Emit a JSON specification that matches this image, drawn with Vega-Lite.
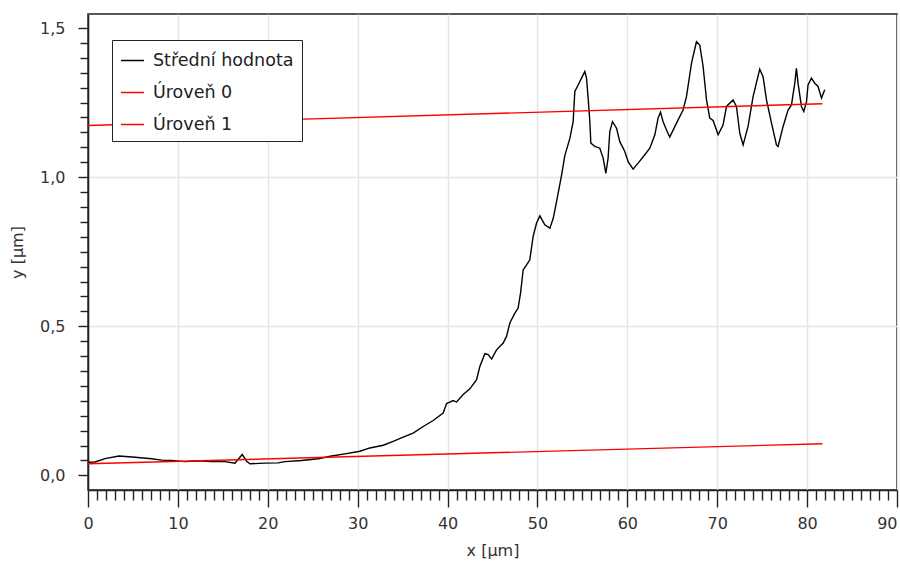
{
  "$schema": "https://vega.github.io/schema/vega-lite/v6.json",
  "width": 809,
  "height": 476,
  "autosize": {"type": "none"},
  "padding": {"left": 88, "top": 14, "right": 3, "bottom": 78},
  "background": "white",
  "config": {
    "view": {"stroke": "#222", "strokeWidth": 1.6},
    "font": "DejaVu Sans"
  },
  "data": {
    "values": [
      {"x": 0.0, "y": 0.044, "series": "Střední hodnota"},
      {"x": 0.78, "y": 0.045, "series": "Střední hodnota"},
      {"x": 1.89, "y": 0.056, "series": "Střední hodnota"},
      {"x": 3.45, "y": 0.065, "series": "Střední hodnota"},
      {"x": 5.23, "y": 0.061, "series": "Střední hodnota"},
      {"x": 7.08, "y": 0.056, "series": "Střední hodnota"},
      {"x": 8.2, "y": 0.051, "series": "Střední hodnota"},
      {"x": 9.31, "y": 0.050, "series": "Střední hodnota"},
      {"x": 10.79, "y": 0.046, "series": "Střední hodnota"},
      {"x": 12.23, "y": 0.049, "series": "Střední hodnota"},
      {"x": 13.76, "y": 0.046, "series": "Střední hodnota"},
      {"x": 15.24, "y": 0.046, "series": "Střední hodnota"},
      {"x": 16.35, "y": 0.041, "series": "Střední hodnota"},
      {"x": 17.16, "y": 0.070, "series": "Střední hodnota"},
      {"x": 17.65, "y": 0.047, "series": "Střední hodnota"},
      {"x": 18.02, "y": 0.039, "series": "Střední hodnota"},
      {"x": 19.68, "y": 0.041, "series": "Střední hodnota"},
      {"x": 21.16, "y": 0.042, "series": "Střední hodnota"},
      {"x": 21.91, "y": 0.046, "series": "Střední hodnota"},
      {"x": 23.76, "y": 0.050, "series": "Střední hodnota"},
      {"x": 25.61, "y": 0.056, "series": "Střední hodnota"},
      {"x": 27.1, "y": 0.065, "series": "Střední hodnota"},
      {"x": 28.58, "y": 0.072, "series": "Střední hodnota"},
      {"x": 30.25, "y": 0.081, "series": "Střední hodnota"},
      {"x": 31.36, "y": 0.092, "series": "Střední hodnota"},
      {"x": 32.84, "y": 0.101, "series": "Střední hodnota"},
      {"x": 33.95, "y": 0.114, "series": "Střední hodnota"},
      {"x": 35.06, "y": 0.128, "series": "Střední hodnota"},
      {"x": 36.17, "y": 0.142, "series": "Střední hodnota"},
      {"x": 37.29, "y": 0.164, "series": "Střední hodnota"},
      {"x": 38.4, "y": 0.184, "series": "Střední hodnota"},
      {"x": 39.51, "y": 0.209, "series": "Střední hodnota"},
      {"x": 39.89, "y": 0.241, "series": "Střední hodnota"},
      {"x": 40.63, "y": 0.251, "series": "Střední hodnota"},
      {"x": 41.0, "y": 0.246, "series": "Střední hodnota"},
      {"x": 41.74, "y": 0.271, "series": "Střední hodnota"},
      {"x": 42.48, "y": 0.290, "series": "Střední hodnota"},
      {"x": 43.23, "y": 0.321, "series": "Střední hodnota"},
      {"x": 43.59, "y": 0.365, "series": "Střední hodnota"},
      {"x": 44.15, "y": 0.408, "series": "Střední hodnota"},
      {"x": 44.52, "y": 0.405, "series": "Střední hodnota"},
      {"x": 44.9, "y": 0.390, "series": "Střední hodnota"},
      {"x": 45.45, "y": 0.421, "series": "Střední hodnota"},
      {"x": 46.19, "y": 0.444, "series": "Střední hodnota"},
      {"x": 46.56, "y": 0.466, "series": "Střední hodnota"},
      {"x": 46.93, "y": 0.511, "series": "Střední hodnota"},
      {"x": 47.49, "y": 0.544, "series": "Střední hodnota"},
      {"x": 47.85, "y": 0.561, "series": "Střední hodnota"},
      {"x": 48.12, "y": 0.611, "series": "Střední hodnota"},
      {"x": 48.41, "y": 0.689, "series": "Střední hodnota"},
      {"x": 48.79, "y": 0.706, "series": "Střední hodnota"},
      {"x": 49.15, "y": 0.723, "series": "Střední hodnota"},
      {"x": 49.52, "y": 0.801, "series": "Střední hodnota"},
      {"x": 49.9, "y": 0.846, "series": "Střední hodnota"},
      {"x": 50.27, "y": 0.870, "series": "Střední hodnota"},
      {"x": 50.82, "y": 0.840, "series": "Střední hodnota"},
      {"x": 51.38, "y": 0.829, "series": "Střední hodnota"},
      {"x": 51.75, "y": 0.861, "series": "Střední hodnota"},
      {"x": 52.12, "y": 0.917, "series": "Střední hodnota"},
      {"x": 52.68, "y": 1.006, "series": "Střední hodnota"},
      {"x": 53.05, "y": 1.073, "series": "Střední hodnota"},
      {"x": 53.6, "y": 1.129, "series": "Střední hodnota"},
      {"x": 53.97, "y": 1.185, "series": "Střední hodnota"},
      {"x": 54.16, "y": 1.287, "series": "Střední hodnota"},
      {"x": 54.53, "y": 1.309, "series": "Střední hodnota"},
      {"x": 54.9, "y": 1.332, "series": "Střední hodnota"},
      {"x": 55.27, "y": 1.354, "series": "Střední hodnota"},
      {"x": 55.46, "y": 1.332, "series": "Střední hodnota"},
      {"x": 55.64, "y": 1.265, "series": "Střední hodnota"},
      {"x": 55.83, "y": 1.186, "series": "Střední hodnota"},
      {"x": 55.94, "y": 1.114, "series": "Střední hodnota"},
      {"x": 56.39, "y": 1.103, "series": "Střední hodnota"},
      {"x": 56.94, "y": 1.097, "series": "Střední hodnota"},
      {"x": 57.31, "y": 1.064, "series": "Střední hodnota"},
      {"x": 57.61, "y": 1.013, "series": "Střední hodnota"},
      {"x": 57.86, "y": 1.064, "series": "Střední hodnota"},
      {"x": 58.05, "y": 1.153, "series": "Střední hodnota"},
      {"x": 58.35, "y": 1.186, "series": "Střední hodnota"},
      {"x": 58.8, "y": 1.164, "series": "Střední hodnota"},
      {"x": 59.16, "y": 1.119, "series": "Střední hodnota"},
      {"x": 59.72, "y": 1.086, "series": "Střední hodnota"},
      {"x": 60.09, "y": 1.052, "series": "Střední hodnota"},
      {"x": 60.64, "y": 1.027, "series": "Střední hodnota"},
      {"x": 61.2, "y": 1.047, "series": "Střední hodnota"},
      {"x": 61.94, "y": 1.075, "series": "Střední hodnota"},
      {"x": 62.5, "y": 1.097, "series": "Střední hodnota"},
      {"x": 63.06, "y": 1.142, "series": "Střední hodnota"},
      {"x": 63.42, "y": 1.198, "series": "Střední hodnota"},
      {"x": 63.69, "y": 1.218, "series": "Střední hodnota"},
      {"x": 63.98, "y": 1.186, "series": "Střední hodnota"},
      {"x": 64.36, "y": 1.158, "series": "Střední hodnota"},
      {"x": 64.72, "y": 1.134, "series": "Střední hodnota"},
      {"x": 65.47, "y": 1.181, "series": "Střední hodnota"},
      {"x": 66.2, "y": 1.225, "series": "Střední hodnota"},
      {"x": 66.58, "y": 1.270, "series": "Střední hodnota"},
      {"x": 67.14, "y": 1.382, "series": "Střední hodnota"},
      {"x": 67.69, "y": 1.454, "series": "Střední hodnota"},
      {"x": 68.06, "y": 1.443, "series": "Střední hodnota"},
      {"x": 68.43, "y": 1.371, "series": "Střední hodnota"},
      {"x": 68.81, "y": 1.259, "series": "Střední hodnota"},
      {"x": 69.17, "y": 1.198, "series": "Střední hodnota"},
      {"x": 69.54, "y": 1.190, "series": "Střední hodnota"},
      {"x": 70.1, "y": 1.142, "series": "Střední hodnota"},
      {"x": 70.65, "y": 1.175, "series": "Střední hodnota"},
      {"x": 71.03, "y": 1.237, "series": "Střední hodnota"},
      {"x": 71.76, "y": 1.259, "series": "Střední hodnota"},
      {"x": 72.14, "y": 1.237, "series": "Střední hodnota"},
      {"x": 72.51, "y": 1.147, "series": "Střední hodnota"},
      {"x": 72.88, "y": 1.108, "series": "Střední hodnota"},
      {"x": 73.43, "y": 1.170, "series": "Střední hodnota"},
      {"x": 73.99, "y": 1.270, "series": "Střední hodnota"},
      {"x": 74.73, "y": 1.362, "series": "Střední hodnota"},
      {"x": 75.1, "y": 1.337, "series": "Střední hodnota"},
      {"x": 75.48, "y": 1.259, "series": "Střední hodnota"},
      {"x": 76.04, "y": 1.181, "series": "Střední hodnota"},
      {"x": 76.59, "y": 1.108, "series": "Střední hodnota"},
      {"x": 76.77, "y": 1.103, "series": "Střední hodnota"},
      {"x": 77.33, "y": 1.170, "series": "Střední hodnota"},
      {"x": 77.88, "y": 1.225, "series": "Střední hodnota"},
      {"x": 78.26, "y": 1.242, "series": "Střední hodnota"},
      {"x": 78.63, "y": 1.315, "series": "Střední hodnota"},
      {"x": 78.81, "y": 1.365, "series": "Střední hodnota"},
      {"x": 78.99, "y": 1.315, "series": "Střední hodnota"},
      {"x": 79.37, "y": 1.237, "series": "Střední hodnota"},
      {"x": 79.63, "y": 1.220, "series": "Střední hodnota"},
      {"x": 79.93, "y": 1.253, "series": "Střední hodnota"},
      {"x": 80.1, "y": 1.309, "series": "Střední hodnota"},
      {"x": 80.48, "y": 1.332, "series": "Střední hodnota"},
      {"x": 80.85, "y": 1.315, "series": "Střední hodnota"},
      {"x": 81.22, "y": 1.304, "series": "Střední hodnota"},
      {"x": 81.6, "y": 1.265, "series": "Střední hodnota"},
      {"x": 81.96, "y": 1.293, "series": "Střední hodnota"},
      {"x": 0.0, "y": 0.039, "series": "Úroveň 0"},
      {"x": 81.7, "y": 0.106, "series": "Úroveň 0"},
      {"x": 0.0, "y": 1.173, "series": "Úroveň 1"},
      {"x": 81.7, "y": 1.246, "series": "Úroveň 1"}
    ]
  },
  "mark": {"type": "line", "strokeWidth": 1.4},
  "encoding": {
    "x": {
      "field": "x",
      "type": "quantitative",
      "scale": {"domain": [0, 90], "nice": false, "zero": false},
      "axis": {
        "title": "x [µm]",
        "values": [0,1,2,3,4,5,6,7,8,9,10,11,12,13,14,15,16,17,18,19,20,21,22,23,24,25,26,27,28,29,30,31,32,33,34,35,36,37,38,39,40,41,42,43,44,45,46,47,48,49,50,51,52,53,54,55,56,57,58,59,60,61,62,63,64,65,66,67,68,69,70,71,72,73,74,75,76,77,78,79,80,81,82,83,84,85,86,87,88,89,90],
        "labelExpr": "datum.value % 10 === 0 ? datum.label : ''",
        "labelOverlap": false,
        "labelFlush": false,
        "labelAlign": {"condition": {"test": "datum.value === 90", "value": "right"}, "value": "center"},
        "labelFontSize": 16,
        "labelColor": "#333",
        "labelPadding": 8,
        "tickSize": {"condition": {"test": "datum.value % 10 === 0", "value": 17}, "value": 10},
        "tickColor": "#222",
        "tickWidth": 1.4,
        "domainColor": "#222",
        "domainWidth": 1.6,
        "grid": true,
        "gridColor": "#e4e4e4",
        "gridWidth": 1.4,
        "gridOpacity": {"condition": {"test": "datum.value % 10 === 0", "value": 1}, "value": 0},
        "titleFontSize": 16,
        "titleFontWeight": "normal",
        "titleColor": "#333",
        "titlePadding": 11
      }
    },
    "y": {
      "field": "y",
      "type": "quantitative",
      "scale": {"domain": [-0.049, 1.547], "nice": false, "zero": false},
      "axis": {
        "title": "y [µm]",
        "values": [0,0.05,0.1,0.15,0.2,0.25,0.3,0.35,0.4,0.45,0.5,0.55,0.6,0.65,0.7,0.75,0.8,0.85,0.9,0.95,1.0,1.05,1.1,1.15,1.2,1.25,1.3,1.35,1.4,1.45,1.5],
        "labelExpr": "abs(datum.value*2 - round(datum.value*2)) < 0.001 ? replace(format(datum.value, '.1f'), '.', ',') : ''",
        "labelOverlap": false,
        "labelFlush": false,
        "labelFontSize": 16,
        "labelColor": "#333",
        "labelPadding": 13,
        "tickSize": {"condition": {"test": "abs(datum.value*2 - round(datum.value*2)) < 0.001", "value": 10}, "value": 8},
        "tickColor": "#222",
        "tickWidth": 1.4,
        "domainColor": "#222",
        "domainWidth": 1.6,
        "grid": true,
        "gridColor": "#e4e4e4",
        "gridWidth": 1.4,
        "gridOpacity": {"condition": {"test": "abs(datum.value - 0.5) < 0.001 || abs(datum.value - 1) < 0.001", "value": 1}, "value": 0},
        "titleFontSize": 16,
        "titleFontWeight": "normal",
        "titleColor": "#333",
        "titlePadding": 14
      }
    },
    "color": {
      "field": "series",
      "type": "nominal",
      "scale": {"domain": ["Střední hodnota", "Úroveň 0", "Úroveň 1"], "range": ["#000000", "#ff0000", "#ff0000"]},
      "legend": {
        "title": null,
        "orient": "none",
        "legendX": 24,
        "legendY": 26,
        "symbolType": "stroke",
        "symbolSize": 529,
        "symbolStrokeWidth": 1.5,
        "labelFontSize": 17.5,
        "labelColor": "#222",
        "labelOffset": 8,
        "rowPadding": 11,
        "padding": 8,
        "strokeColor": "#222",
        "fillColor": "white",
        "labelLimit": 300
      }
    }
  }
}
